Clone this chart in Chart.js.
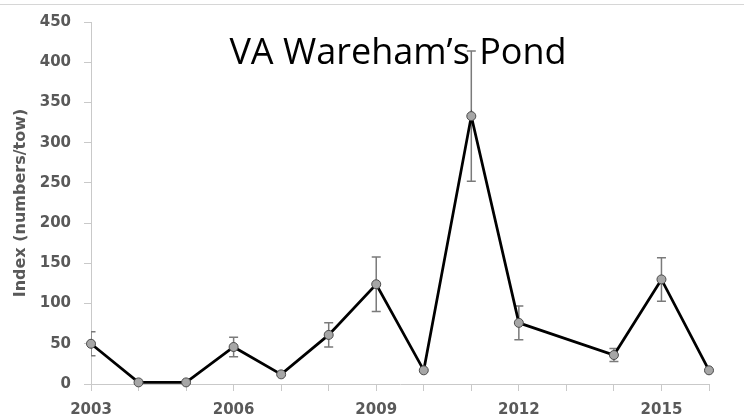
<!DOCTYPE html>
<html>
<head>
<meta charset="utf-8">
<script src="https://cdn.jsdelivr.net/npm/chart.js@4"></script>
<style>
  html, body { margin: 0; padding: 0; background: #fff; }
  #wrap { position: relative; width: 744px; height: 418px; }
  #rule { position: absolute; left: 0; top: 4px; width: 744px; height: 0; border-top: 1px solid #d6d6d6; }
  canvas { position: absolute; left: 0; top: 0; }
</style>
</head>
<body>
<div id="wrap">
  <canvas id="c" width="744" height="418"></canvas>
  <div id="rule"></div>
</div>
<script>
// Survey years (2013 not sampled)
const years = [2003, 2004, 2005, 2006, 2007, 2008, 2009, 2010, 2011, 2012, 2014, 2015, 2016];
// Mean index (numbers/tow)
const indexValues = [50, 2, 2, 46, 12, 61, 124, 17, 333, 76, 36, 130, 17];
// Standard error for each year
const stdErrors = [15, 0, 0, 12, 0, 15, 34, 0, 81, 21, 8, 27, 0];
// Years that carry an axis label
const labeledYears = [2003, 2006, 2009, 2012, 2015];

const chartTitle = 'VA Wareham\u2019s Pond';
const yTitle = 'Index (numbers/tow)';

const points = years.map((yr, i) => ({ x: yr, y: indexValues[i] }));

const axisGrey = '#c9c9c9';
const labelGrey = '#595959';
const tickFont = { family: 'DejaVu Sans', size: 15, weight: 'bold' };

// Vertical error whiskers with caps, drawn under the line
const errorBars = {
  id: 'errorBars',
  beforeDatasetsDraw(chart) {
    const { ctx, chartArea, scales: { x, y } } = chart;
    ctx.save();
    ctx.beginPath();
    ctx.rect(chartArea.left, chartArea.top - 10, chartArea.right - chartArea.left, chartArea.bottom - chartArea.top + 10);
    ctx.clip();
    ctx.strokeStyle = '#7a7a7a';
    ctx.lineWidth = 1.5;
    const cap = 4.5;
    years.forEach((yr, i) => {
      const e = stdErrors[i];
      if (!e) return;
      const px = x.getPixelForValue(yr);
      const top = y.getPixelForValue(indexValues[i] + e);
      const bot = y.getPixelForValue(indexValues[i] - e);
      ctx.beginPath();
      ctx.moveTo(px, top); ctx.lineTo(px, bot);
      ctx.moveTo(px - cap, top); ctx.lineTo(px + cap, top);
      ctx.moveTo(px - cap, bot); ctx.lineTo(px + cap, bot);
      ctx.stroke();
    });
    ctx.restore();
  }
};

// Heading set inside the plot area
const plotHeading = {
  id: 'plotHeading',
  afterDatasetsDraw(chart) {
    const { ctx, chartArea } = chart;
    ctx.save();
    ctx.font = '36px "Open Sans"';
    ctx.fillStyle = '#000';
    ctx.textAlign = 'center';
    ctx.textBaseline = 'alphabetic';
    ctx.fillText(chartTitle, chartArea.left + 307, chartArea.top + 42);
    ctx.restore();
  }
};

new Chart(document.getElementById('c'), {
  type: 'line',
  data: {
    datasets: [{
      data: points,
      borderColor: '#000',
      borderWidth: 2.75,
      pointRadius: 4.5,
      pointBackgroundColor: '#a6a6a6',
      pointBorderColor: '#4a4a4a',
      pointBorderWidth: 1,
      tension: 0,
      clip: false
    }]
  },
  options: {
    responsive: false,
    animation: false,
    layout: { padding: { top: 22, right: 35, left: 0, bottom: 0 } },
    plugins: { legend: { display: false }, tooltip: { enabled: false }, title: { display: false } },
    scales: {
      x: {
        type: 'linear',
        min: 2003,
        max: 2016,
        afterFit(s) { s.height = 34; },
        ticks: {
          stepSize: 1,
          autoSkip: false,
          maxRotation: 0,
          padding: 10,
          color: labelGrey,
          font: tickFont,
          callback: v => labeledYears.includes(v) ? String(v) : ''
        },
        grid: { drawOnChartArea: false, drawTicks: true, tickLength: 7, color: axisGrey, lineWidth: 1 },
        border: { color: axisGrey, width: 1 }
      },
      y: {
        min: 0,
        max: 450,
        afterFit(s) { s.width = 91; },
        ticks: { stepSize: 50, padding: 13, color: labelGrey, font: tickFont },
        grid: { drawOnChartArea: false, drawTicks: true, tickLength: 7, color: axisGrey, lineWidth: 1 },
        border: { color: axisGrey, width: 1 },
        title: {
          display: true,
          text: yTitle,
          color: labelGrey,
          font: { family: 'DejaVu Sans', size: 16, weight: 'bold' },
          padding: { top: 11, bottom: 0 }
        }
      }
    }
  },
  plugins: [errorBars, plotHeading]
});
</script>
</body>
</html>
